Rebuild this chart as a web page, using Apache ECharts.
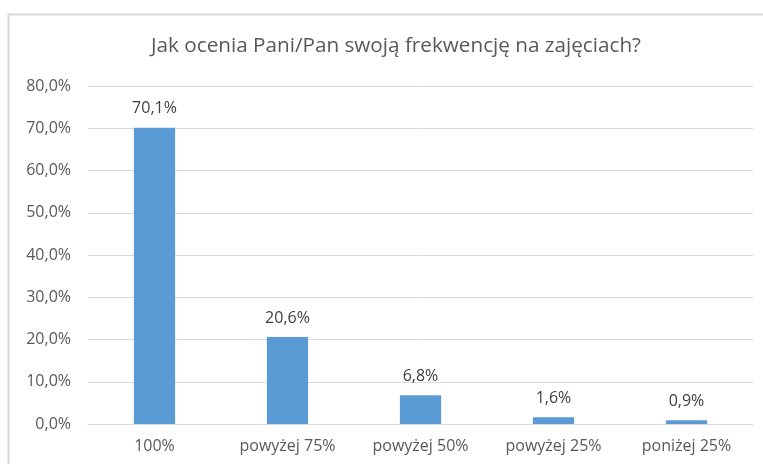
<!DOCTYPE html>
<html>
<head>
<meta charset="utf-8">
<script src="https://cdn.jsdelivr.net/npm/echarts@6/dist/echarts.min.js"></script>
<style>
html,body{margin:0;padding:0;background:#fff;}
#chart{width:763px;height:464px;}
</style>
</head>
<body>
<div id="chart"></div>
<script>
const titleText = 'Jak ocenia Pani/Pan swoją frekwencję na zajęciach?';
const categories = ['100%', 'powyżej 75%', 'powyżej 50%', 'powyżej 25%', 'poniżej 25%'];
const values = [70.1, 20.6, 6.8, 1.6, 0.9];
const yMin = 0, yMax = 80, yStep = 10;

const fmt = v => v.toFixed(1).replace('.', ',') + '%';
const FONT = 'Open Sans';

const chart = echarts.init(document.getElementById('chart'), null, {renderer: 'canvas'});
chart.setOption({
  animation: false,
  backgroundColor: '#fff',
  title: {
    text: titleText,
    left: 391, top: 31, textAlign: 'center',
    textStyle: {fontFamily: FONT, fontSize: 20.7, fontWeight: 'normal', color: '#595959'}
  },
  graphic: [{
    type: 'polyline',
    shape: {points: [[8.5, 470], [8.5, 14.5], [770, 14.5]]},
    style: {stroke: '#d9d9d9', lineWidth: 2, fill: null},
    silent: true
  }],
  grid: {left: 88, right: 10, top: 86, bottom: 40, containLabel: false},
  xAxis: {
    type: 'category',
    data: categories,
    axisLine: {show: true, lineStyle: {color: '#d9d9d9', width: 1}},
    axisTick: {show: false},
    axisLabel: {fontFamily: FONT, fontSize: 16, color: '#595959', margin: 14}
  },
  yAxis: {
    type: 'value',
    min: yMin, max: yMax, interval: yStep,
    axisLine: {show: false},
    axisTick: {show: false},
    splitLine: {lineStyle: {color: '#d9d9d9', width: 1}},
    axisLabel: {fontFamily: FONT, fontSize: 16, color: '#595959', margin: 17, formatter: v => fmt(v)}
  },
  series: [{
    type: 'bar',
    data: values,
    barWidth: '31%',
    itemStyle: {color: '#5b9bd5'},
    label: {
      show: true, position: 'top', distance: 11,
      fontFamily: FONT, fontSize: 16, color: '#404040',
      formatter: p => fmt(p.value)
    }
  }]
});
</script>
</body>
</html>
